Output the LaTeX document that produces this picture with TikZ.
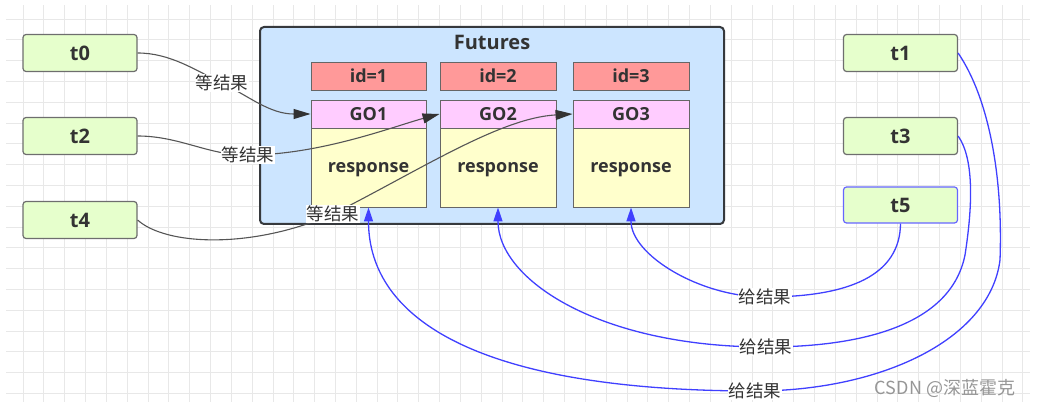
\documentclass[tikz,border=0pt]{standalone}
\usepackage{fontspec}
\setmainfont{Open Sans}
\newfontfamily\cjk{Noto Sans CJK SC}
\usetikzlibrary{arrows.meta}
\definecolor{gridc}{RGB}{232,232,232}
\definecolor{txt}{RGB}{51,51,51}
\definecolor{thrfill}{RGB}{230,255,204}
\definecolor{thrdraw}{RGB}{110,110,110}
\definecolor{contfill}{RGB}{204,229,255}
\definecolor{contdraw}{RGB}{54,57,61}
\definecolor{idfill}{RGB}{255,153,153}
\definecolor{gofill}{RGB}{255,204,255}
\definecolor{respfill}{RGB}{255,255,204}
\definecolor{boxdraw}{RGB}{102,102,102}
\definecolor{waitc}{RGB}{85,85,85}
\definecolor{arrc}{RGB}{51,51,51}
\definecolor{giveblue}{RGB}{64,64,255}
\definecolor{t5draw}{RGB}{102,102,255}
\definecolor{wmark}{RGB}{150,150,150}
\begin{document}
\begin{tikzpicture}[x=1pt,y=-1pt,
  thread/.style={draw=thrdraw,fill=thrfill,line width=1.2pt,rounded corners=3pt,
    minimum width=114pt,minimum height=37pt,inner sep=0pt,text=txt,font=\bfseries\fontsize{20}{22}\selectfont},
  cont/.style={draw=contdraw,fill=contfill,line width=2pt,rounded corners=4pt,
    minimum width=464pt,minimum height=197pt,inner sep=0pt},
  cell/.style={draw=boxdraw,line width=0.9pt,minimum width=115pt,inner sep=0pt,text=txt,
    font=\bfseries\fontsize{18}{20}\selectfont},
  idbox/.style={cell,fill=idfill,minimum height=28pt},
  gobox/.style={cell,fill=gofill,minimum height=28pt},
  respbox/.style={cell,fill=respfill,minimum height=79pt,text depth=0pt},
  title/.style={text=txt,font=\bfseries\fontsize{20}{22}\selectfont,inner sep=0pt},
  lbl/.style={fill=white,text=txt,inner sep=1pt,font=\cjk\fontsize{17.5}{19}\selectfont},
  wait/.style={draw=waitc,line width=1.1pt,-{Triangle[length=17pt,width=10pt,fill=arrc,color=arrc]}},
  give/.style={draw=giveblue,line width=1.3pt,-{Triangle[length=14pt,width=9pt]}},
]
\useasboundingbox (0,0) rectangle (1037,406);
% grid
\begin{scope}
\clip (6,5) rectangle (1030,402);
\foreach \i in {0,...,48} { \draw[gridc,line width=0.9pt] ({23+20.83*\i},5) -- ({23+20.83*\i},402); }
\foreach \j in {0,...,18} { \draw[gridc,line width=0.9pt] (6,{19+20.8*\j}) -- (1030,{19+20.8*\j}); }
\end{scope}

% threads
\node[thread] (t0) at (80,53) {t0};
\node[thread] (t2) at (80,136) {t2};
\node[thread] (t4) at (80,220) {t4};
\node[thread] (t1) at (900.5,53) {t1};
\node[thread] (t3) at (900.5,136) {t3};
\node[thread,draw=t5draw,minimum height=36pt] (t5) at (900.5,205) {t5};

% container
\node[cont] (fut) at (492,125.5) {};
\node[title] (futt) at (492,42) {Futures};
\node[idbox] (id1) at (368.5,76) {id=1};
\node[idbox,minimum width=116pt] (id2) at (498,76) {id=2};
\node[idbox,minimum width=116pt] (id3) at (631,76) {id=3};
\node[gobox] (go1) at (368.5,114) {GO1};
\node[gobox,minimum width=116pt] (go2) at (498,114) {GO2};
\node[gobox,minimum width=116pt] (go3) at (631,114) {GO3};
\node[respbox] (r1) at (368.5,167.5) {response};
\node[respbox,minimum width=116pt] (r2) at (498,167.5) {response};
\node[respbox,minimum width=116pt] (r3) at (631,167.5) {response};

% waiting connectors
\draw[wait] (t0.east) .. controls (170,53) and (195,70) .. (222,83) node[lbl]{等结果}
  .. controls (250,97) and (270,114) .. (go1.west);
\draw[wait] (t2.east) .. controls (180,136) and (210,156) .. (248,155) node[lbl]{等结果}
  .. controls (320,155) and (395,126) .. (go2.west);
\draw[wait] (t4.east) .. controls (165,245) and (250,250) .. (333,214) node[lbl]{等结果}
  .. controls (420,170) and (500,118) .. (go3.west);

% giving connectors
\draw[give] (t5.south) .. controls (900,275) and (850,297) .. (765,297) node[lbl]{给结果}
  .. controls (700,297) and (r3.south|-0,255) .. (r3.south);
\draw[give] (t3.east) .. controls (975,160) and (972,210) .. (965,255)
  .. controls (950,330) and (850,347) .. (766,347) node[lbl]{给结果}
  .. controls (600,347) and (r2.south|-0,280) .. (r2.south);
\draw[give] (t1.east) .. controls (990,100) and (1003,180) .. (1000,260)
  .. controls (990,340) and (880,391) .. (755,391) node[lbl]{给结果}
  .. controls (480,391) and (r1.south|-0,320) .. (r1.south);

% watermark text
\node[text=wmark,inner sep=0pt,font=\cjk\fontsize{18}{20}\selectfont] (csdn) at (945,388) {CSDN @深蓝霍克};
\end{tikzpicture}
\end{document}
